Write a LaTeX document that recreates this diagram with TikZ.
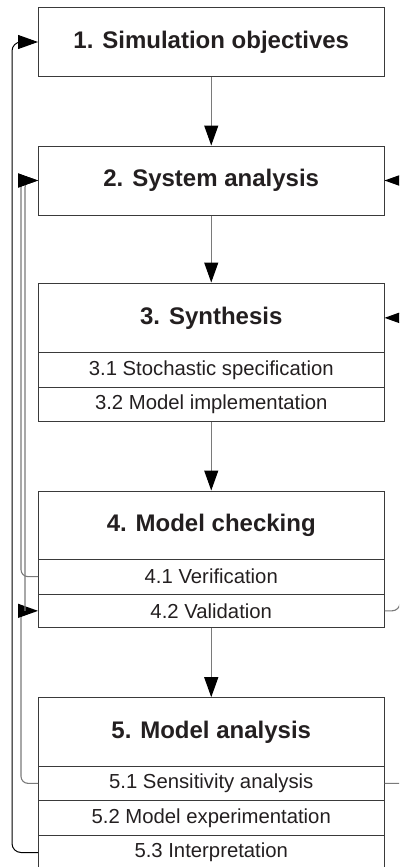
\documentclass[tikz,border=0pt]{standalone}
\usepackage{fontspec}
\setmainfont{Liberation Sans}
\usetikzlibrary{arrows.meta}
\definecolor{ink}{HTML}{231F20}
\definecolor{frame}{HTML}{3A3A3A}
\definecolor{wire}{HTML}{7A7A7A}
\begin{document}
\begin{tikzpicture}[x=1pt,y=-1pt,
  box/.style={draw=frame,line width=1pt,minimum width=345.5pt,inner sep=0pt,text=ink,anchor=center},
  title/.style={box,font=\bfseries\fontsize{24}{28}\selectfont},
  row/.style={box,font=\fontsize{20.3}{24}\selectfont},
  tip/.style={-{Triangle[length=20pt,width=14pt,color=black,fill=black]}},
  flow/.style={draw=wire,line width=1.1pt,tip},
  back/.style={draw=wire,line width=1.1pt,tip,rounded corners=7pt},
  outer/.style={draw=black,line width=1pt,tip,rounded corners=9pt}]
\useasboundingbox (0,0) rectangle (399,867);
\clip (0,0) rectangle (399,867);
% boxes
\node[title,minimum height=68pt] (b1) at (211.25,42) {1. Simulation objectives};
\node[title,minimum height=69pt] (b2) at (211.25,180.5) {2. System analysis};
\node[title,minimum height=69.7pt] (b3) at (211.25,317.85) {3. Synthesis};
\node[row,minimum height=34.6pt] (r31) at (211.25,370) {3.1 Stochastic specification};
\node[row,minimum height=34.4pt] (r32) at (211.25,404.5) {3.2 Model implementation};
\node[title,minimum height=68.3pt] (b4) at (211.25,525.15) {4. Model checking};
\node[row,minimum height=34.7pt] (r41) at (211.25,576.65) {4.1 Verification};
\node[row,minimum height=33.7pt] (r42) at (211.25,610.85) {4.2 Validation};
\node[title,minimum height=68.3pt] (b5) at (211.25,731.85) {5. Model analysis};
\node[row,minimum height=34.7pt] (r51) at (211.25,783.35) {5.1 Sensitivity analysis};
\node[row,minimum height=34.3pt] (r52) at (211.25,817.85) {5.2 Model experimentation};
\node[row,minimum height=35pt] (r53) at (211.25,852.5) {5.3 Interpretation};
% guide coordinates for the return lines
\coordinate (L0) at (12,0);
\coordinate (L1) at (21,0);
\coordinate (L2) at (25,0);
\coordinate (R1) at (400,0);
\coordinate (R2) at (408,0);
% main flow
\draw[flow] (b1) -- (b2);
\draw[flow] (b2) -- (b3);
\draw[flow] (r32) -- (b4);
\draw[flow] (r42) -- (b5);
% left feedback
\draw[outer] (r53.west) -| (L0 |- b1.west) -- (b1.west);
\draw[back] (r51.west) -| (L1 |- r42.west) -- (r42.west);
\draw[back] (r41.west) -| (L1 |- b2.west) -- (b2.west);
\draw[back] (r42.west -| L2) -- (L2 |- b2.west) -- (b2.west);
% right feedback
\draw[flow] (r42.east) [rounded corners=8pt] -- (R1 |- r42.east) [sharp corners] -- (R1 |- b3.east) -- ++(8,0) -- (b3.east);
\draw[flow] (r51.east) [rounded corners=8pt] -- (R2 |- r51.east) [sharp corners] -- (R2 |- b2.east) -- (b2.east);
\end{tikzpicture}
\end{document}
